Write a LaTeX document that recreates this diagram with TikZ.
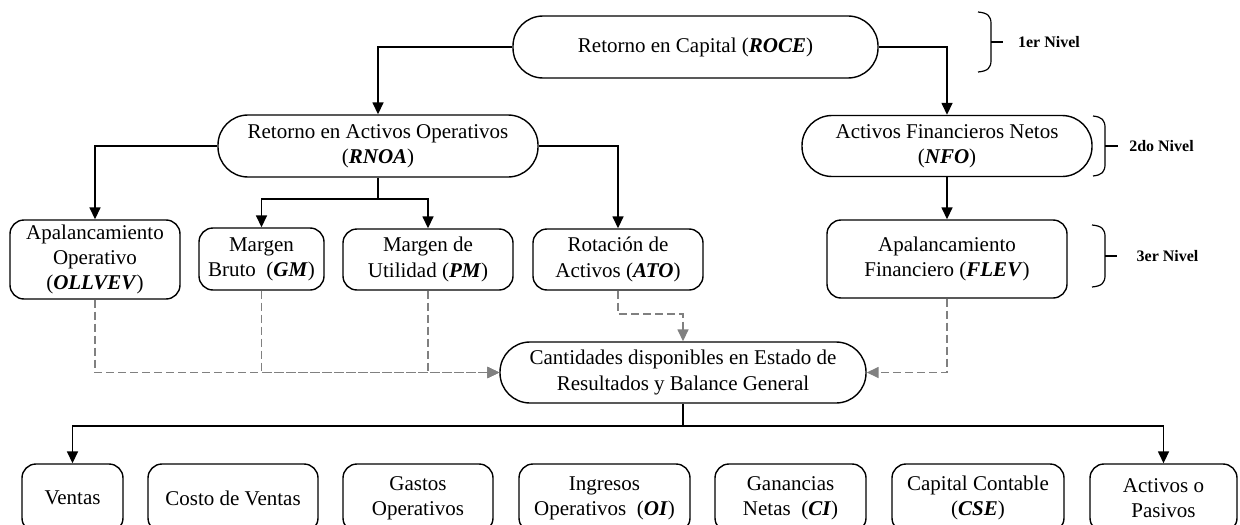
\documentclass[tikz,border=0pt]{standalone}
\usepackage{fontspec}
\setmainfont{Liberation Serif}
\usetikzlibrary{arrows.meta}

\tikzset{
  caja/.style={draw, line width=0.7pt, align=center, inner sep=2pt, font=\fontsize{10.5pt}{12.6pt}\selectfont},
  grande/.style={caja, rounded corners=15pt},
  chica/.style={caja, rounded corners=7pt},
  linea/.style={line width=0.8pt},
  flecha/.style={line width=0.8pt, -{Triangle[length=6pt,width=5.5pt]}},
  datos/.style={gray, line width=0.8pt, dash pattern=on 4pt off 2pt, -{Triangle[length=6pt,width=5.5pt]}},
  llave/.style={line width=0.6pt},
  nivel/.style={font=\fontsize{8pt}{9.6pt}\selectfont\bfseries}
}

\begin{document}
\begin{tikzpicture}[x=0.5pt, y=-0.5pt]
  \useasboundingbox (0,0) rectangle (1240,524);

  % niveles superiores
  \node[grande, minimum width=182.5pt, minimum height=31pt] (roce) at (695.5,47) {Retorno en Capital (\textbf{\textit{ROCE}})};
  \node[grande, minimum width=160pt, minimum height=31pt] (rnoa) at (378,146) {Retorno en Activos Operativos\\(\textbf{\textit{RNOA}})};
  \node[grande, minimum width=145pt, minimum height=30.5pt] (nfo) at (947,146) {Activos Financieros Netos\\(\textbf{\textit{NFO}})};

  % tercer nivel
  \node[chica, minimum width=85pt, minimum height=39.5pt] (ollvev) at (95,259.5) {Apalancamiento\\Operativo\\(\textbf{\textit{OLLVEV}})};
  \node[chica, minimum width=62.5pt, minimum height=31pt] (gm) at (261.5,259) {Margen\\Bruto \ (\textbf{\textit{GM}})};
  \node[chica, minimum width=85pt, minimum height=30.5pt] (pm) at (428,259.5) {Margen de\\Utilidad (\textbf{\textit{PM}})};
  \node[chica, minimum width=85pt, minimum height=30.5pt] (ato) at (618,259.5) {Rotaci\'on de\\Activos (\textbf{\textit{ATO}})};
  \node[chica, minimum width=120pt, minimum height=39pt] (flev) at (947,259) {Apalancamiento\\Financiero (\textbf{\textit{FLEV}})};

  \node[grande, minimum width=183pt, minimum height=30.5pt] (cad) at (683,372.5) {Cantidades disponibles en Estado de\\Resultados y Balance General};

  % fila inferior
  \node[chica, minimum width=50.5pt, minimum height=34pt] (ventas) at (72.5,498) {Ventas};
  \node[chica, minimum width=85pt, minimum height=34pt] (costo) at (233,498) {Costo de Ventas};
  \node[chica, minimum width=75pt, minimum height=34pt] (gastos) at (418,498) {Gastos\\Operativos};
  \node[chica, minimum width=85.5pt, minimum height=34pt] (ingresos) at (604.5,498) {Ingresos\\Operativos \ (\textbf{\textit{OI}})};
  \node[chica, minimum width=75.5pt, minimum height=34pt] (ganancias) at (790.5,498) {Ganancias\\Netas \ (\textbf{\textit{CI}})};
  \node[chica, minimum width=86pt, minimum height=34pt] (capital) at (978,498) {Capital Contable\\(\textbf{\textit{CSE}})};
  \node[chica, minimum width=73.5pt, minimum height=34pt] (activos) at (1163.5,498) {Activos o\\Pasivos};

  % conectores
  \draw[flecha] (roce.west) -| (rnoa.north);
  \draw[flecha] (roce.east) -| (nfo.north);
  \draw[flecha] (rnoa.west) -| (ollvev.north);
  \draw[flecha] (rnoa.east) -| (ato.north);
  \coordinate (rsplit) at (378,199);
  \draw[linea] (rnoa.south) -- (rsplit);
  \draw[flecha] (rsplit) -| (gm.north);
  \draw[flecha] (rsplit) -| (pm.north);
  \draw[flecha] (nfo.south) -- (flev.north);
  \coordinate (csplit) at (683,426);
  \draw[linea] (cad.south) -- (csplit);
  \draw[flecha] (csplit) -| (ventas.north);
  \draw[flecha] (csplit) -| (activos.north);

  % lineas punteadas
  \draw[datos] (ollvev.south) |- (cad.west);
  \draw[datos] (gm.south) |- (cad.west);
  \draw[datos] (pm.south) |- (cad.west);
  \draw[datos] (flev.south) |- (cad.east);
  \draw[datos] (ato.south) -- ++(0,23) -| (cad.north);

  % llaves
  \draw[llave] (978,12) .. controls (988,13) and (991,16) .. (991,24) -- (991,60) .. controls (991,68) and (988,71) .. (978,72);
  \draw[llave] (991,42) -- (1003,42);
  \node[nivel] (n1) at (1049,42) {1er Nivel};
  \draw[llave] (1093,116) .. controls (1102,117) and (1105,120) .. (1105,128) -- (1105,164) .. controls (1105,172) and (1102,175) .. (1093,176);
  \draw[llave] (1105,146) -- (1118,146);
  \node[nivel] (n2) at (1161.5,146) {2do Nivel};
  \draw[llave] (1092,225) .. controls (1102,226) and (1105,229) .. (1105,237) -- (1105,275) .. controls (1105,283) and (1102,286) .. (1092,287);
  \draw[llave] (1105,256) -- (1117,256);
  \node[nivel] (n3) at (1167.5,256) {3er Nivel};
\end{tikzpicture}
\end{document}
